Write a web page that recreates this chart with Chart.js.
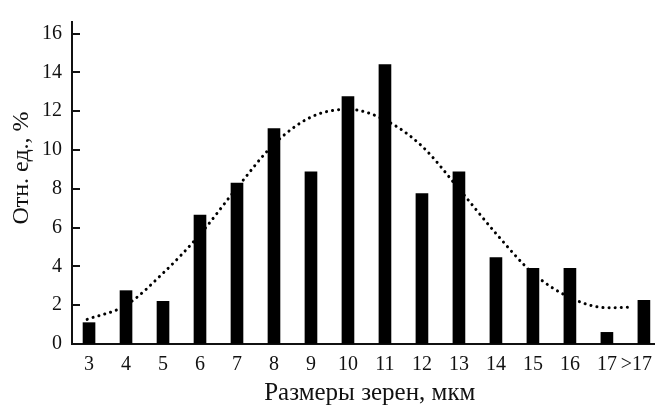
<!DOCTYPE html>
<html>
<head>
<meta charset="utf-8">
<script src="https://cdn.jsdelivr.net/npm/chart.js@4/dist/chart.umd.min.js"></script>
<style>
html,body{margin:0;padding:0;background:#fff;}
#wrap{width:655px;height:407px;}
</style>
</head>
<body>
<div id="wrap"><canvas id="c" width="655" height="407"></canvas></div>
<script>
const sizes = [3, 4, 5, 6, 7, 8, 9, 10, 11, 12, 13, 14, 15, 16, 17, 18];
const sizeLabels = ["3", "4", "5", "6", "7", "8", "9", "10", "11", "12", "13", "14", "15", "16", "17", ">17"];
const shares = [1.1, 2.75, 2.2, 6.65, 8.3, 11.1, 8.88, 12.75, 14.4, 7.75, 8.88, 4.45, 3.9, 3.9, 0.6, 2.25];
const fitX = [2.95, 4, 5, 6, 7, 8, 9, 10, 11, 12, 13, 14, 15, 16, 17, 17.7];
const fitY = [1.27, 2.0, 3.65, 5.65, 8.05, 10.3, 11.7, 12.1, 11.55, 10.2, 8.0, 5.7, 3.65, 2.4, 1.87, 1.9];
const yTicks = [0, 2, 4, 6, 8, 10, 12, 14, 16];
const xTitle = "Размеры зерен, мкм";
const yTitle = "Отн. ед., %";

const FONT = "'Liberation Serif', 'Times New Roman', serif";
const NB = "\u00A0";

const innerTicks = {
  id: 'innerTicks',
  afterDraw(chart) {
    const y = chart.scales.y;
    const ctx = chart.ctx;
    ctx.save();
    ctx.strokeStyle = '#111';
    ctx.lineWidth = 2;
    yTicks.forEach(v => {
      if (v === 0) return;
      const py = Math.round(y.getPixelForValue(v));
      ctx.beginPath();
      ctx.moveTo(chart.chartArea.left, py);
      ctx.lineTo(chart.chartArea.left + 8, py);
      ctx.stroke();
    });
    ctx.restore();
  }
};

new Chart(document.getElementById('c'), {
  type: 'bar',
  data: {
    datasets: [
      {
        type: 'line',
        data: fitX.map((x, i) => ({x: x, y: fitY[i]})),
        borderColor: '#000',
        borderWidth: 3,
        borderDash: [0.1, 6],
        borderCapStyle: 'round',
        pointRadius: 0,
        fill: false,
        cubicInterpolationMode: 'monotone',
        order: 0
      },
      {
        type: 'bar',
        data: sizes.map((x, i) => ({x: x, y: shares[i]})),
        backgroundColor: '#000',
        borderWidth: 0,
        barThickness: 12,
        order: 1
      }
    ]
  },
  options: {
    responsive: false,
    animation: false,
    events: [],
    layout: {padding: {top: 15, right: 0, left: 0, bottom: 0}},
    plugins: {legend: {display: false}, tooltip: {enabled: false}},
    scales: {
      x: {
        type: 'linear',
        offset: false,
        min: 2.54,
        max: 18.3,
        afterFit(s) { s.height = 63; s.paddingLeft = 0; s.paddingRight = 0; },
        afterBuildTicks(s) { s.ticks = sizes.map(v => ({value: v})); },
        grid: {display: true, drawOnChartArea: false, drawTicks: false, offset: false},
        border: {display: true, color: '#111', width: 2},
        ticks: {
          padding: 9,
          color: '#111',
          font: {family: FONT, size: 20},
          autoSkip: false,
          maxRotation: 0,
          callback(v) {
            const i = sizes.indexOf(v);
            if (i < 0) return '';
            return i === sizes.length - 1 ? sizeLabels[i] + NB.repeat(3) : sizeLabels[i];
          }
        },
        title: {display: true, text: NB.repeat(2) + xTitle, color: '#111', font: {family: FONT, size: 25}, padding: {top: 0, bottom: -1}}
      },
      y: {
        min: 0,
        max: 16.6,
        afterFit(s) { s.width = 72; },
        afterBuildTicks(s) { s.ticks = yTicks.map(v => ({value: v})); },
        grid: {display: true, drawOnChartArea: false, drawTicks: false},
        border: {display: true, color: '#111', width: 2},
        ticks: {
          padding: 10,
          color: '#111',
          font: {family: FONT, size: 20}
        },
        title: {display: true, text: NB.repeat(5) + yTitle, color: '#111', font: {family: FONT, size: 24}, padding: {top: 7, bottom: 0}}
      }
    }
  },
  plugins: [innerTicks]
});
</script>
</body>
</html>
